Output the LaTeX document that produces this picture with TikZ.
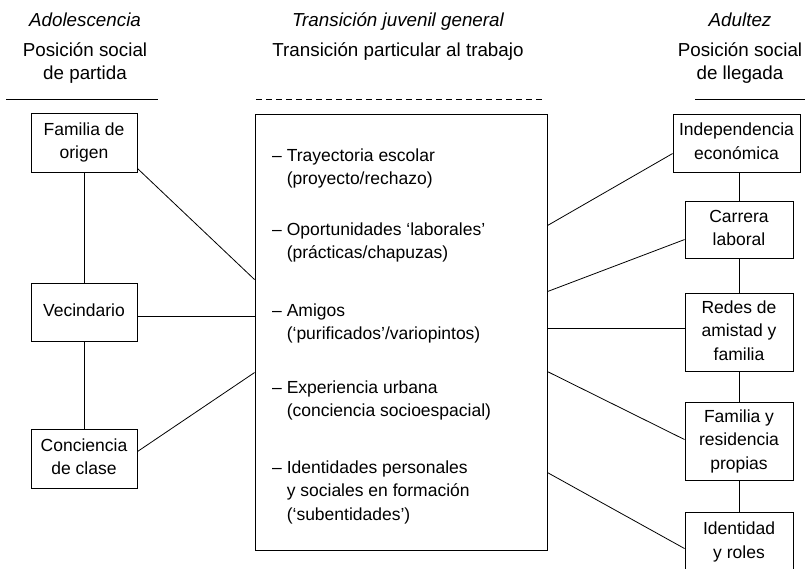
\documentclass[tikz,border=0pt]{standalone}
\usepackage{fontspec}
\setmainfont{Liberation Sans}
\usetikzlibrary{calc}
\newcommand\dgfont{\fontsize{17.5}{23.5}\selectfont}
\newcommand\hdfont{\fontsize{18.8}{23.5}\selectfont}
\begin{document}
\begin{tikzpicture}[x=1pt,y=-1pt,
  box/.style={draw,line width=0.9pt,align=center,inner sep=0pt,font=\dgfont},
  hdr/.style={anchor=base,inner sep=0pt,font=\hdfont},
  hdri/.style={anchor=base,inner sep=0pt,font=\hdfont\itshape},
  item/.style={anchor=north west,align=left,inner sep=0pt,font=\dgfont},
  link/.style={line width=0.8pt},
  rule/.style={line width=0.9pt}]
\useasboundingbox (0,0) rectangle (805,568);
\clip (0,0) rectangle (805,568);

% headers
\node[hdri] (h1) at (85,26) {Adolescencia};
\node[hdr]  (h2) at (85,56) {Posición social};
\node[hdr]  (h3) at (85,79) {de partida};
\node[hdri] (m1) at (398,26) {Transición juvenil general};
\node[hdr]  (m2) at (398,56) {Transición particular al trabajo};
\node[hdri] (r1) at (740,26) {Adultez};
\node[hdr]  (r2) at (740,56) {Posición social};
\node[hdr]  (r3) at (740,79) {de llegada};

\draw[rule] (6,99) -- (158,99);
\draw[rule,dash pattern=on 6pt off 4pt] (256,99) -- (545,99);
\draw[rule] (695,99) -- (805,99);

% left column
\node[box,minimum width=106pt,minimum height=59pt] (fam) at (84,142.5) {\strut Familia de\\\strut origen};
\node[box,minimum width=106pt,minimum height=58pt] (vec) at (84,312) {\strut Vecindario};
\node[box,minimum width=106pt,minimum height=59pt] (con) at (84,458.5) {\strut Conciencia\\\strut de clase};

% central box
\node[draw,line width=0.9pt,minimum width=292pt,minimum height=436pt,inner sep=0pt] (cb) at (401,332) {};
\node[item] (i1) at (272,144.5) {\strut – Trayectoria escolar\\\strut\phantom{– }(proyecto/rechazo)};
\node[item] (i2) at (272,218.5) {\strut – Oportunidades ‘laborales’\\\strut\phantom{– }(prácticas/chapuzas)};
\node[item] (i3) at (272,299.5) {\strut – Amigos\\\strut\phantom{– }(‘purificados’/variopintos)};
\node[item] (i4) at (272,376.5) {\strut – Experiencia urbana\\\strut\phantom{– }(conciencia socioespacial)};
\node[item] (i5) at (272,456.5) {\strut – Identidades personales\\\strut\phantom{– }y sociales en formación\\\strut\phantom{– }(‘subentidades’)};

% right column
\node[box,minimum width=127pt,minimum height=58pt] (ind) at (736.5,143) {\strut Independencia\\\strut económica};
\node[box,minimum width=108pt,minimum height=57pt] (car) at (739,229.5) {\strut Carrera\\\strut laboral};
\node[box,minimum width=108pt,minimum height=78pt] (red) at (739,332) {\strut Redes de\\\strut amistad y\\\strut familia};
\node[box,minimum width=108pt,minimum height=78pt] (fyr) at (739,441) {\strut Familia y\\\strut residencia\\\strut propias};
\node[box,minimum width=108pt,minimum height=60pt] (idr) at (739,542) {\strut Identidad\\\strut y roles};

% connectors left
\draw[link] (fam.south) -- (vec.north);
\draw[link] (vec.south) -- (con.north);
\draw[link] ($(fam.south east)+(0,-4)$) -- ($(cb.north west)+(0,166)$);
\draw[link] ($(vec.north east)+(0,34)$) -- ($(cb.north west)+(0,203)$);
\draw[link] ($(con.north east)+(0,23)$) -- ($(cb.north west)+(0,259)$);

% connectors right
\draw[link] ($(cb.north east)+(0,112)$) -- ($(ind.north west)+(0,40)$);
\draw[link] ($(cb.north east)+(0,178)$) -- ($(car.north west)+(0,39)$);
\draw[link] ($(cb.north east)+(0,215)$) -- ($(red.north west)+(0,36)$);
\draw[link] ($(cb.north east)+(0,258)$) -- ($(fyr.north west)+(0,38)$);
\draw[link] ($(cb.north east)+(0,359)$) -- ($(idr.north west)+(0,37)$);
\draw[link] (ind.south -| car.north) -- (car.north);
\draw[link] (car.south) -- (red.north);
\draw[link] (red.south) -- (fyr.north);
\draw[link] (fyr.south) -- (idr.north);
\end{tikzpicture}
\end{document}
